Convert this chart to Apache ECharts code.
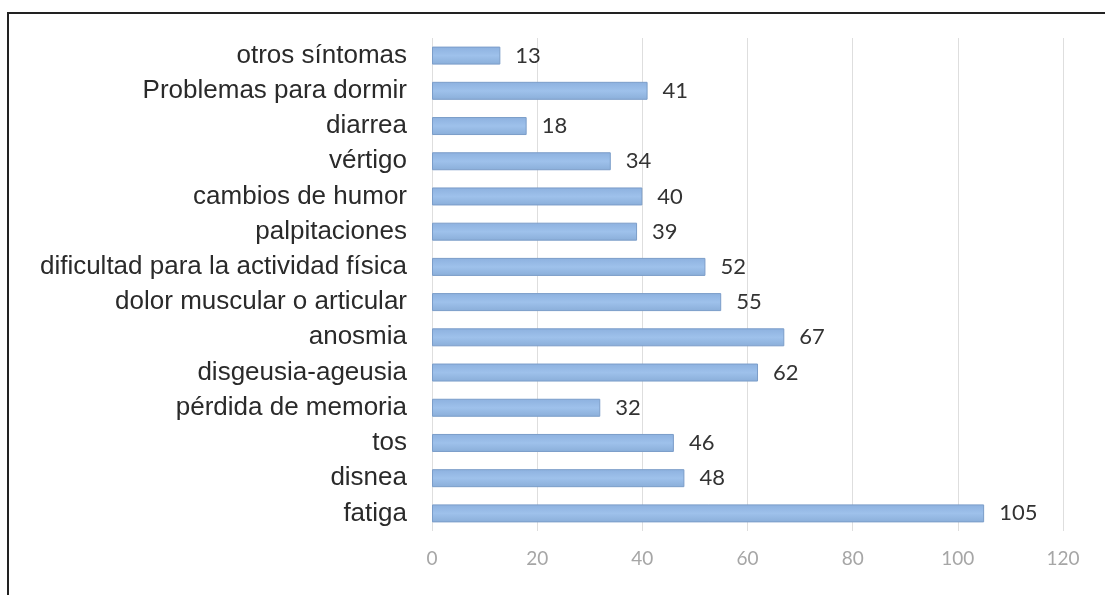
<!DOCTYPE html>
<html><head><meta charset="utf-8">
<script src="https://cdn.jsdelivr.net/npm/echarts@6/dist/echarts.min.js"></script>
<style>html,body{margin:0;padding:0;background:#fff;}#c{width:1105px;height:595px;}</style>
</head><body><div id="c"></div>
<script>
const categories = ["fatiga","disnea","tos","pérdida de memoria","disgeusia-ageusia","anosmia","dolor muscular o articular","dificultad para la actividad física","palpitaciones","cambios de humor","vértigo","diarrea","Problemas para dormir","otros síntomas"];
const values = [105,48,46,32,62,67,55,52,39,40,34,18,41,13];
const xTicks = {min:0,max:120,interval:20};
const chart = echarts.init(document.getElementById('c'));
chart.setOption({
  animation:false,
  graphic:[{type:'rect',shape:{x:8,y:13,width:1200,height:700},style:{fill:'none',stroke:'#222',lineWidth:2},z:100}],
  grid:{left:432,right:42,top:38,bottom:64},
  xAxis:{type:'value',min:xTicks.min,max:xTicks.max,interval:xTicks.interval,
    axisLine:{show:false},axisTick:{show:false},
    splitLine:{lineStyle:{color:'#dedede',width:1}},
    axisLabel:{color:'#a6a6a6',fontSize:19,fontFamily:'Lato, sans-serif',margin:18}},
  yAxis:{type:'category',data:categories,
    axisLine:{show:false},axisTick:{show:false},
    axisLabel:{color:'#2a2a2a',fontSize:26,fontFamily:'Liberation Sans, Arial, sans-serif',margin:25}},
  series:[{type:'bar',data:values,barWidth:18,
    itemStyle:{color:new echarts.graphic.LinearGradient(0,0,0,1,[{offset:0,color:'#8db1df'},{offset:0.5,color:'#9ec1eb'},{offset:1,color:'#8aaed9'}]),borderColor:'#7b9dc9',borderWidth:1},
    label:{show:true,position:'right',distance:15,color:'#333',fontSize:22,fontFamily:'Lato, sans-serif'}}]
});
</script></body></html>
